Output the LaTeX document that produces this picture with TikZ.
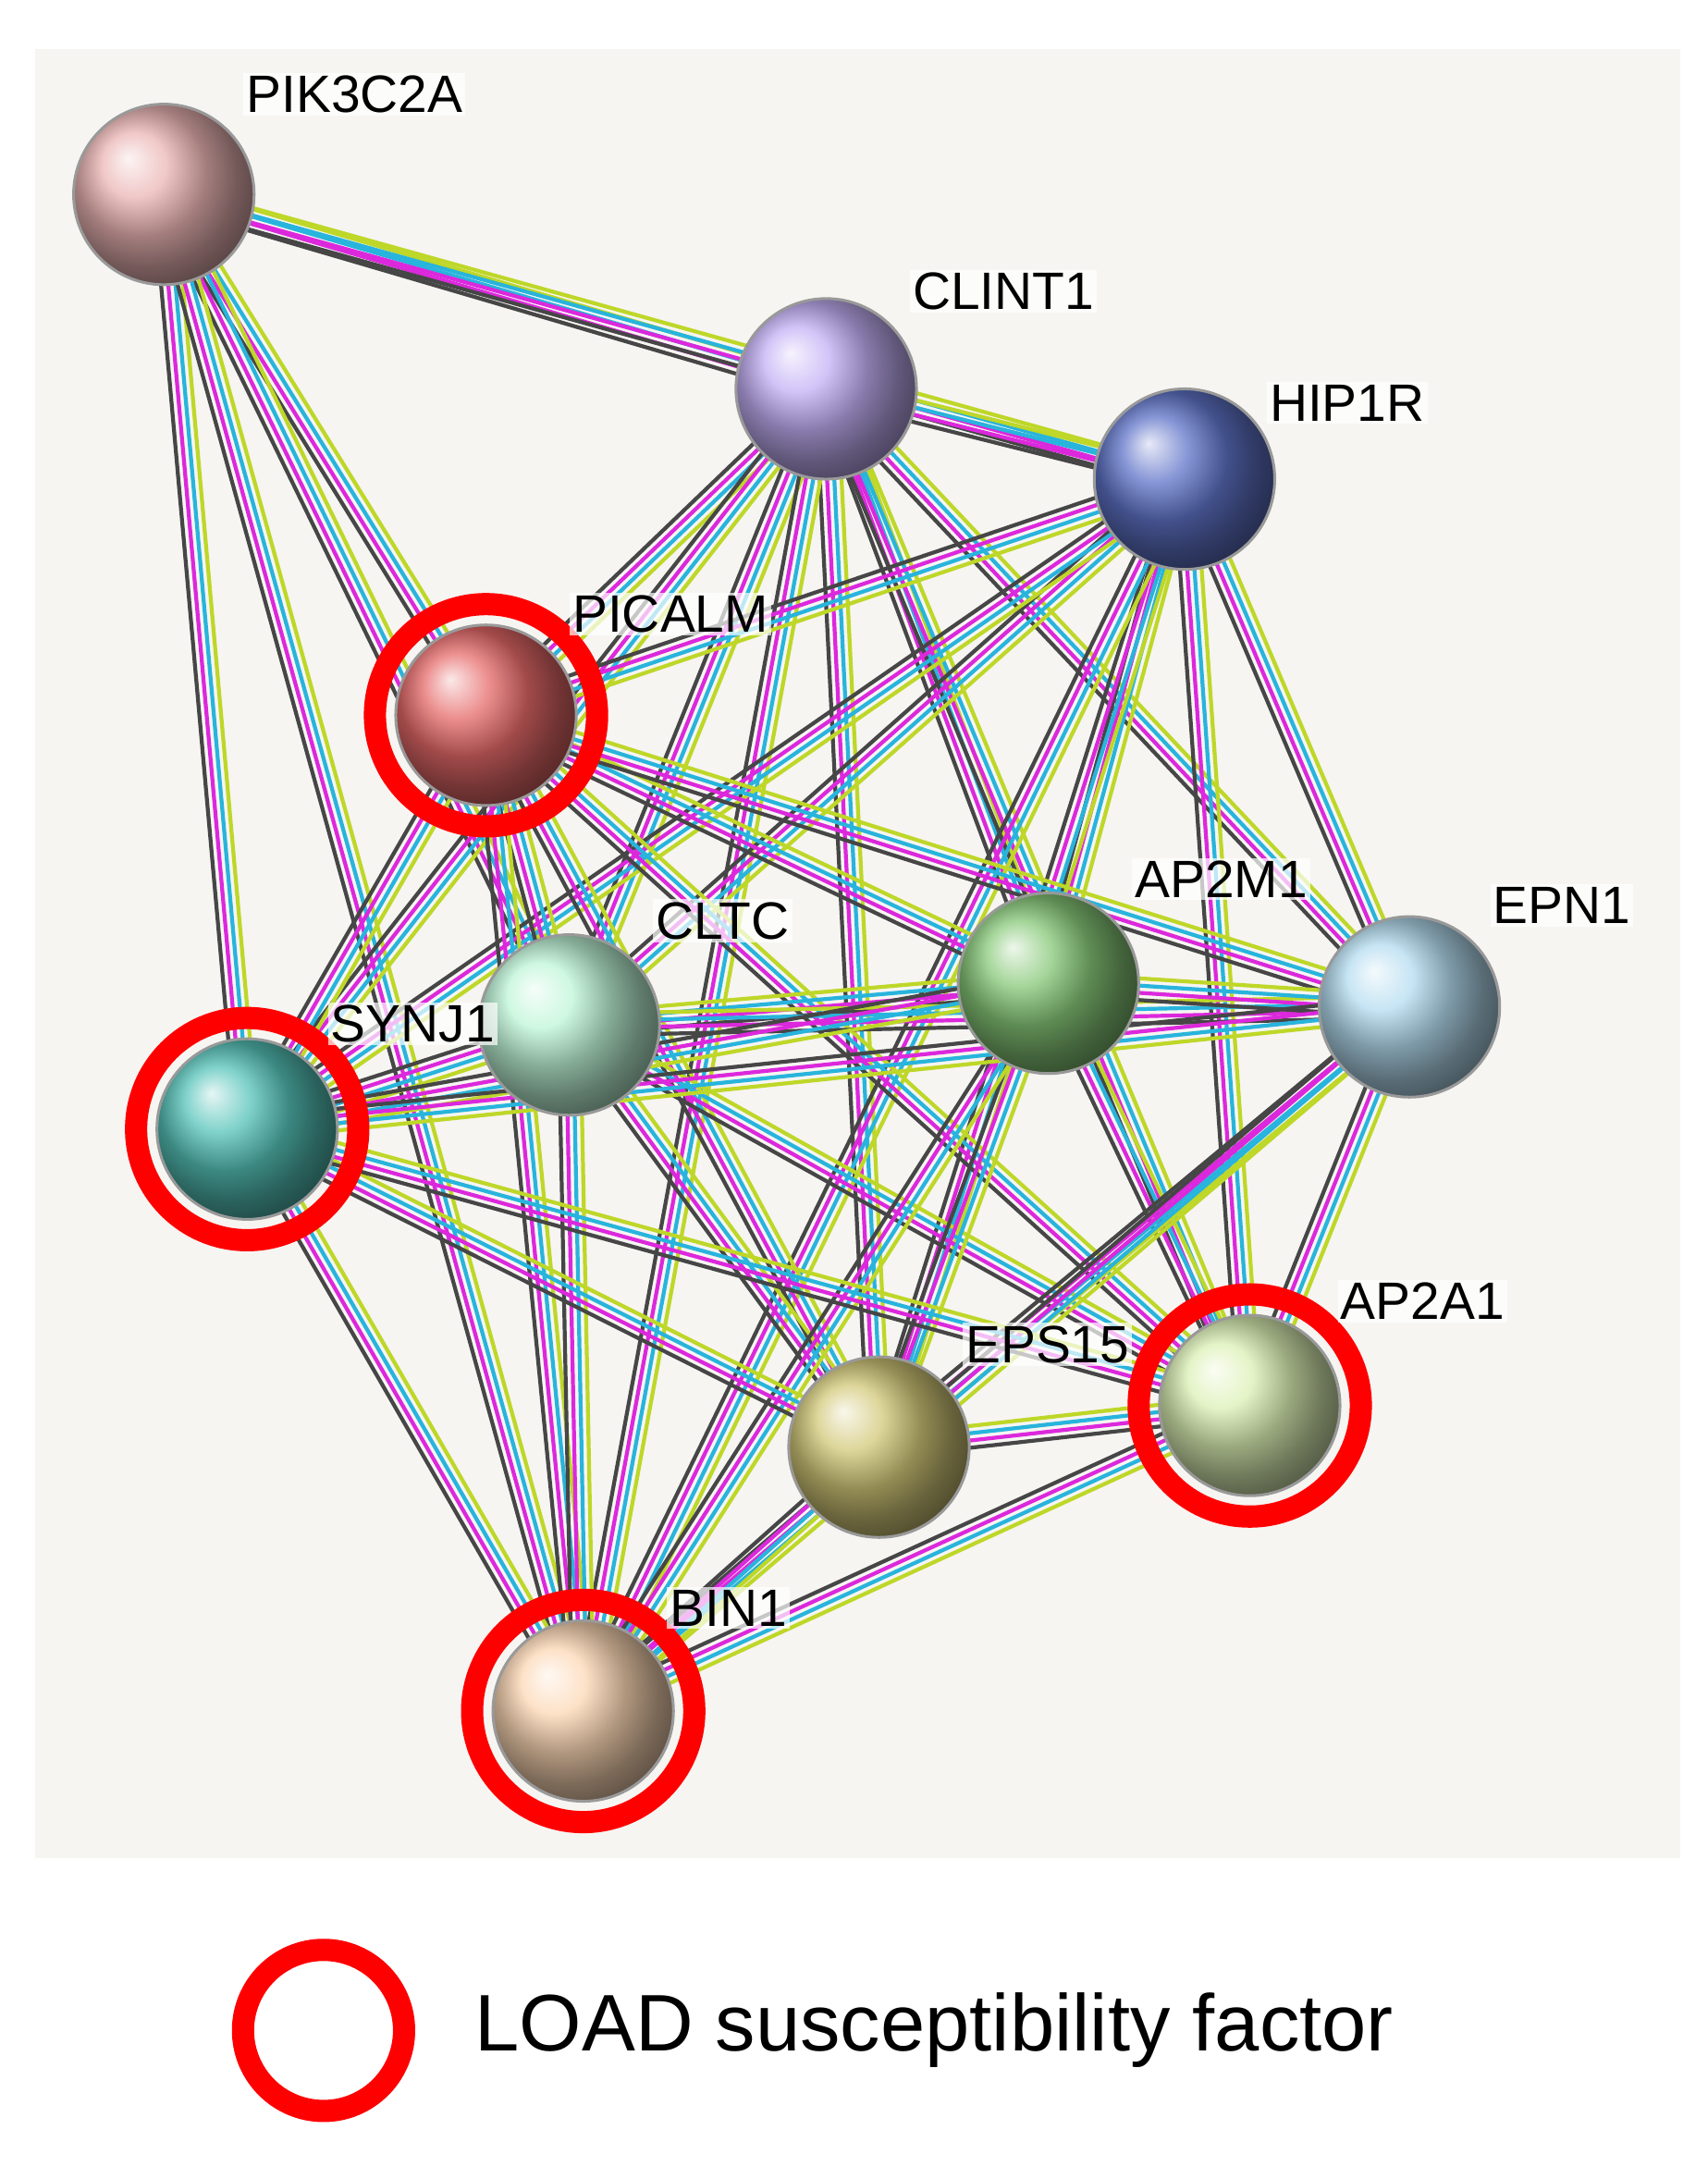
\documentclass[tikz,border=0pt]{standalone}
\usepackage{fontspec}
\setmainfont{Liberation Sans}
\usetikzlibrary{calc}
\definecolor{eK}{RGB}{70,70,70}
\definecolor{eM}{RGB}{220,40,220}
\definecolor{eC}{RGB}{40,180,220}
\definecolor{eY}{RGB}{190,215,40}
\definecolor{bgc}{RGB}{246,245,242}
\begin{document}
\begin{tikzpicture}[x=0.5bp,y=-0.5bp,
 ball/.style={circle,minimum size=130*0.5bp,inner sep=0pt,draw=black!40,line width=1bp},
 ring/.style={draw=red,line width=8bp},
 lab/.style={font=\fontsize{19}{22}\selectfont,anchor=west,fill=white,fill opacity=0.7,text opacity=1,inner sep=1bp}]
\useasboundingbox (0,0) rectangle (1230,1569);
\fill[white] (0,0) rectangle (1230,1569);
\fill[bgc] (25,35) rectangle (1210,1338);
\coordinate (PIK) at (118,140);
\coordinate (CLI) at (595,280);
\coordinate (HIP) at (853,345);
\coordinate (PIC) at (350,515);
\coordinate (CLT) at (410,738);
\coordinate (AP2M) at (755,708);
\coordinate (EPN) at (1015,725);
\coordinate (SYN) at (178,813);
\coordinate (EPS) at (633,1042);
\coordinate (AP2A) at (900,1012);
\coordinate (BIN) at (420,1232);
\newcommand\stredge[2]{%
 \foreach \o/\c in {-3.9/eK,-1.3/eM,1.3/eC,3.9/eY}{%
  \draw[color=\c,line width=1.4bp] ($(#1)!\o bp!90:(#2)$) -- ($(#2)!\o bp!-90:(#1)$);}}
\foreach \a/\b in {PIK/CLI,PIK/HIP,PIK/PIC,PIK/CLT,PIK/SYN,PIK/BIN,
 CLI/HIP,CLI/PIC,CLI/CLT,CLI/AP2M,CLI/EPN,CLI/SYN,CLI/EPS,CLI/AP2A,CLI/BIN,
 HIP/PIC,HIP/CLT,HIP/AP2M,HIP/EPN,HIP/SYN,HIP/EPS,HIP/AP2A,HIP/BIN,
 PIC/CLT,PIC/AP2M,PIC/EPN,PIC/SYN,PIC/EPS,PIC/AP2A,PIC/BIN,
 CLT/AP2M,CLT/EPN,CLT/SYN,CLT/EPS,CLT/AP2A,CLT/BIN,
 AP2M/EPN,AP2M/SYN,AP2M/EPS,AP2M/AP2A,AP2M/BIN,
 EPN/SYN,EPN/EPS,EPN/AP2A,EPN/BIN,
 SYN/EPS,SYN/AP2A,SYN/BIN,EPS/AP2A,EPS/BIN,AP2A/BIN}{\stredge{\a}{\b}}
\node[ball,ball color={rgb,255:red,235;green,180;blue,180}] (nPIK) at (PIK) {};
\node[ball,ball color={rgb,255:red,195;green,175;blue,245}] (nCLI) at (CLI) {};
\node[ball,ball color={rgb,255:red,95;green,115;blue,200}] (nHIP) at (HIP) {};
\node[ball,ball color={rgb,255:red,230;green,105;blue,105}] (nPIC) at (PIC) {};
\node[ball,ball color={rgb,255:red,190;green,245;blue,215}] (nCLT) at (CLT) {};
\node[ball,ball color={rgb,255:red,135;green,200;blue,120}] (nAP2M) at (AP2M) {};
\node[ball,ball color={rgb,255:red,180;green,220;blue,240}] (nEPN) at (EPN) {};
\node[ball,ball color={rgb,255:red,85;green,195;blue,185}] (nSYN) at (SYN) {};
\node[ball,ball color={rgb,255:red,210;green,200;blue,120}] (nEPS) at (EPS) {};
\node[ball,ball color={rgb,255:red,220;green,240;blue,180}] (nAP2A) at (AP2A) {};
\node[ball,ball color={rgb,255:red,252;green,215;blue,180}] (nBIN) at (BIN) {};
\foreach \n in {PIC,SYN,AP2A,BIN}{\draw[ring] (\n) circle (80);}
\node[lab] at (175,68) {PIK3C2A};
\node[lab] at (655,210) {CLINT1};
\node[lab] at (912,290) {HIP1R};
\node[lab] at (410,442) {PICALM};
\node[lab] at (470,663) {CLTC};
\node[lab] at (815,633) {AP2M1};
\node[lab] at (1073,652) {EPN1};
\node[lab] at (236,737) {SYNJ1};
\node[lab] at (693,968) {EPS15};
\node[lab] at (963,937) {AP2A1};
\node[lab] at (480,1158) {BIN1};
\draw[ring] (233,1462) circle (58) coordinate (legring);
\node[anchor=west,font=\fontsize{29}{34}\selectfont] (legtext) at (335,1462) {LOAD susceptibility factor};
\end{tikzpicture}
\end{document}
